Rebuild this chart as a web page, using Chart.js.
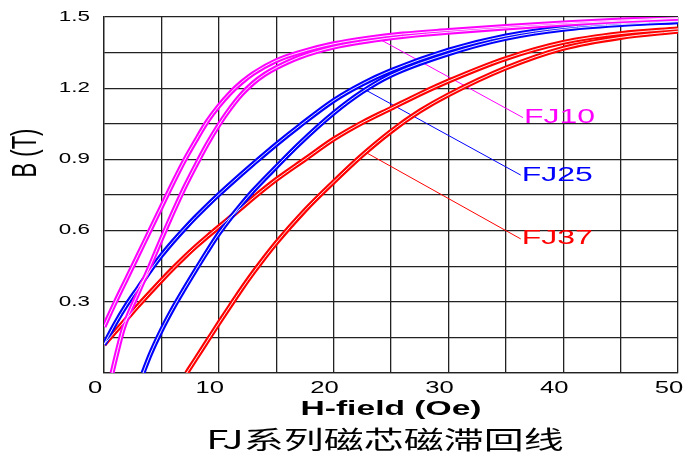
<!DOCTYPE html>
<html>
<head>
<meta charset="utf-8">
<script src="https://cdn.jsdelivr.net/npm/chart.js@4"></script>
<style>
  html, body { margin: 0; background: #fff; }
</style>
</head>
<body>
<canvas id="chart" width="683" height="457"></canvas>
<script>
const fj10UpH = [0, 1, 2, 3, 4, 5, 6, 7, 8, 9, 10, 11, 12, 13, 15, 17, 20, 23, 26, 30, 35, 40, 45, 50];
const fj10UpB = [0.195, 0.30, 0.40, 0.50, 0.60, 0.70, 0.80, 0.895, 0.98, 1.06, 1.125, 1.18, 1.225, 1.262, 1.316, 1.35, 1.387, 1.411, 1.428, 1.443, 1.46, 1.475, 1.487, 1.497];
const fj10LoH = [0.7, 1.2, 1.7, 3, 4, 5, 6, 7, 8, 9, 10, 11, 12, 13, 14, 15, 17, 20, 23, 26, 30, 35, 40, 45, 50];
const fj10LoB = [0, 0.10, 0.19, 0.34, 0.45, 0.565, 0.675, 0.78, 0.875, 0.965, 1.045, 1.115, 1.175, 1.222, 1.258, 1.286, 1.33, 1.373, 1.399, 1.418, 1.436, 1.454, 1.47, 1.483, 1.494];

const fj25UpH = [0, 1, 2, 3, 4, 5, 6, 7, 8, 9, 10, 11, 12, 13, 15, 17, 20, 22.5, 25, 30, 35, 40, 45, 50];
const fj25UpB = [0.12, 0.21, 0.29, 0.36, 0.43, 0.495, 0.553, 0.607, 0.658, 0.706, 0.752, 0.796, 0.839, 0.881, 0.963, 1.04, 1.148, 1.218, 1.274, 1.36, 1.42, 1.455, 1.472, 1.482];
const fj25LoH = [3.4, 4, 5, 6, 7, 8, 9, 10, 11, 12, 13, 15, 17, 20, 22.5, 25, 30, 35, 40, 45, 50];
const fj25LoB = [0, 0.075, 0.18, 0.272, 0.355, 0.435, 0.513, 0.587, 0.652, 0.712, 0.768, 0.868, 0.965, 1.095, 1.185, 1.255, 1.345, 1.41, 1.448, 1.468, 1.48];

const fj37UpH = [0, 1, 2, 3, 4, 5, 6, 7, 8, 9, 10, 11, 12, 13, 15, 17.5, 20, 22.5, 25, 27.5, 30, 35, 40, 45, 50];
const fj37UpB = [0.12, 0.175, 0.23, 0.285, 0.338, 0.39, 0.44, 0.488, 0.533, 0.575, 0.615, 0.656, 0.697, 0.738, 0.815, 0.90, 0.985, 1.055, 1.115, 1.175, 1.23, 1.325, 1.393, 1.43, 1.45];
const fj37LoH = [7.2, 8, 9, 10, 11, 12, 13, 15, 17.5, 20, 22.5, 25, 27.5, 30, 35, 40, 45, 50];
const fj37LoB = [0, 0.06, 0.135, 0.21, 0.283, 0.355, 0.423, 0.548, 0.685, 0.805, 0.918, 1.018, 1.103, 1.172, 1.285, 1.368, 1.414, 1.44];

// series names, label anchor (H, B) and leader line start (H, B)
const names = ['FJ10', 'FJ25', 'FJ37'];
const colors = ['#ff00ff', '#0000ff', '#ff0000'];
const labelH = [36.5, 36.3, 36.3];
const labelB = [1.076, 0.834, 0.565];
const leaderH = [23.8, 22.5, 22.9];
const leaderB = [1.412, 1.20, 0.927];

const xTickLabels = [0, 10, 20, 30, 40, 50];
const yTickLabels = [0.3, 0.6, 0.9, 1.2, 1.5];

const pts = (hs, bs) => hs.map((h, i) => ({ x: h, y: bs[i] }));

// each branch: thick coloured band with a thin white line through it
function branch(hs, bs, color) {
  const data = pts(hs, bs);
  return [
    { data, borderColor: color, borderWidth: 5, order: 1, cubicInterpolationMode: 'monotone' },
    { data, borderColor: '#fff', borderWidth: 0.9, order: 0, cubicInterpolationMode: 'monotone' }
  ];
}

const datasets = [
  ...branch(fj10UpH, fj10UpB, colors[0]),
  ...branch(fj10LoH, fj10LoB, colors[0]),
  ...branch(fj25UpH, fj25UpB, colors[1]),
  ...branch(fj25LoH, fj25LoB, colors[1]),
  ...branch(fj37UpH, fj37UpB, colors[2]),
  ...branch(fj37LoH, fj37LoB, colors[2])
];
names.forEach((n, i) => {
  datasets.push({
    data: [{ x: leaderH[i], y: leaderB[i] }, { x: labelH[i], y: labelB[i] }],
    borderColor: colors[i], borderWidth: 1, order: 2
  });
});

const STRETCH = 1.6;
function wideText(ctx, text, x, y, font, color, align) {
  ctx.save();
  ctx.font = font;
  ctx.fillStyle = color;
  ctx.textBaseline = 'middle';
  ctx.textAlign = align || 'center';
  ctx.translate(x, y);
  ctx.scale(STRETCH, 1);
  ctx.fillText(text, 0, 0);
  ctx.restore();
}

const textPlugin = {
  id: 'texts',
  afterDraw(chart) {
    const ctx = chart.ctx;
    const xs = chart.scales.x, ys = chart.scales.y;
    const sans = '"Liberation Sans", Arial, sans-serif';

    yTickLabels.forEach(v => {
      wideText(ctx, v.toFixed(1), 90, ys.getPixelForValue(v), '14px ' + sans, '#000', 'right');
    });
    xTickLabels.forEach(v => {
      wideText(ctx, String(v), xs.getPixelForValue(v) - 9, 389, '16px ' + sans, '#000');
    });

    wideText(ctx, 'H-field (Oe)', 391, 409, 'bold 21px ' + sans, '#000');
    wideText(ctx, 'FJ系列磁芯磁滞回线', 385, 439, '25px "Noto Sans CJK SC", sans-serif', '#000');

    // rotated y title, stretched across the page's x direction
    ctx.save();
    ctx.font = '22px ' + sans;
    ctx.fillStyle = '#000';
    ctx.textAlign = 'center';
    ctx.textBaseline = 'middle';
    ctx.translate(26, 153);
    ctx.rotate(-Math.PI / 2);
    ctx.scale(1, STRETCH);
    ctx.fillText('B (T)', 0, 0);
    ctx.restore();

    names.forEach((n, i) => {
      wideText(ctx, n, xs.getPixelForValue(labelH[i]) + 1, ys.getPixelForValue(labelB[i]),
        '20px ' + sans, colors[i], 'left');
    });
  }
};

new Chart(document.getElementById('chart'), {
  type: 'scatter',
  data: { datasets },
  options: {
    responsive: false,
    animation: false,
    events: [],
    showLine: true,
    layout: { padding: { left: 104, top: 17, right: 5, bottom: 84 } },
    elements: { point: { radius: 0 }, line: { fill: false } },
    plugins: { legend: { display: false }, tooltip: { enabled: false } },
    scales: {
      x: {
        type: 'linear', min: 0, max: 50,
        ticks: { stepSize: 5, display: false },
        grid: { color: '#222', lineWidth: 1.3, drawTicks: false },
        border: { color: '#222', width: 1.3 }
      },
      y: {
        type: 'linear', min: 0, max: 1.5,
        ticks: { stepSize: 0.15, display: false },
        grid: { color: '#222', lineWidth: 1.3, drawTicks: false },
        border: { color: '#222', width: 1.3 }
      }
    }
  },
  plugins: [textPlugin]
});
</script>
</body>
</html>
